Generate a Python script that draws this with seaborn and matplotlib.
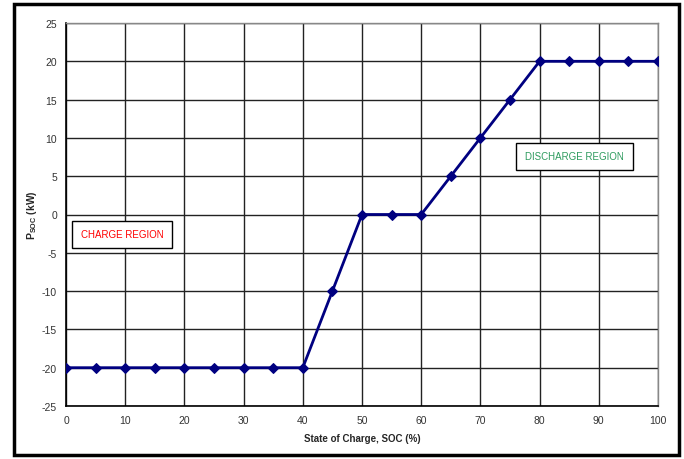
import matplotlib
matplotlib.use("Agg")
import matplotlib.pyplot as plt
import seaborn as sns
import pandas as pd
from matplotlib.patches import Rectangle

# state of charge (%) and battery power (kW)
soc = [0, 5, 10, 15, 20, 25, 30, 35, 40, 45, 50, 55, 60, 65, 70, 75, 80, 85, 90, 95, 100]
p_soc = [-20, -20, -20, -20, -20, -20, -20, -20, -20, -10, 0, 0, 0, 5, 10, 15, 20, 20, 20, 20, 20]
x_ticks = list(range(0, 101, 10))
y_ticks = list(range(-25, 26, 5))

df = pd.DataFrame({"SOC": soc, "P": p_soc})

sns.set_style("white")
plt.rcParams["font.family"] = ["Liberation Sans", "DejaVu Sans"]
plt.rcParams["mathtext.fontset"] = "custom"
plt.rcParams["mathtext.rm"] = "Liberation Sans:bold"
plt.rcParams["axes.unicode_minus"] = False

fig = plt.figure(figsize=(6.84, 4.60), dpi=100)
ax = fig.add_axes([66 / 684, 1 - 407 / 460, 592 / 684, 383 / 460])

sns.lineplot(data=df, x="SOC", y="P", ax=ax, color="#000080", lw=2,
             marker="D", markersize=5, markeredgecolor="#000080", zorder=5)

ax.set_xlim(0, 100)
ax.set_ylim(-25, 25)
ax.set_xticks(x_ticks)
ax.set_yticks(y_ticks)
ax.grid(True, color="#222222", lw=1)
ax.tick_params(labelsize=7.5, colors="#333333", length=3, direction="out")
ax.tick_params(axis="both", color="black")
for s in ["left", "bottom"]:
    ax.spines[s].set_color("black")
    ax.spines[s].set_linewidth(1.2)
for s in ["right", "top"]:
    ax.spines[s].set_color("#888888")
    ax.spines[s].set_linewidth(1)

ax.set_xlabel("State of Charge, SOC (%)", fontsize=7, fontweight="bold", labelpad=6)
ax.set_ylabel(r"P$_{\mathrm{SOC}}$ (kW)", fontsize=7.5, fontweight="bold")
ax.yaxis.set_label_coords(-27 / 592, 0.5)

ax.text(9.5, -2.6, "CHARGE REGION", color="red", fontsize=7, ha="center", va="center",
        bbox=dict(boxstyle="square,pad=0.9", fc="white", ec="black", lw=1), zorder=6)
ax.text(85.9, 7.6, "DISCHARGE REGION", color="#2e9b5e", fontsize=7, ha="center", va="center",
        bbox=dict(boxstyle="square,pad=0.9", fc="white", ec="black", lw=1), zorder=6)

# outer chart border
fig.patches.append(Rectangle((14 / 684, 1 - 456 / 460), 665 / 684, 451 / 460,
                             transform=fig.transFigure, fill=False, ec="black", lw=2.5))

fig.savefig("out.png", dpi=100)
